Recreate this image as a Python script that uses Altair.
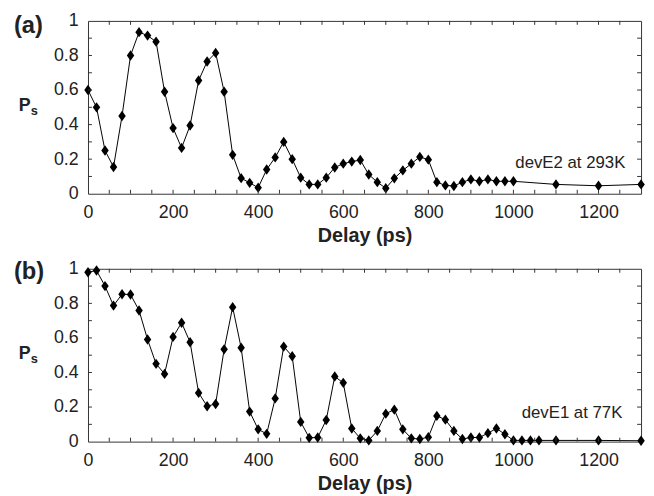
import altair as alt
import pandas as pd

# ---------------- data ----------------
t_a = list(range(0, 1001, 20)) + [1100, 1200, 1300]
ps_a = [0.60, 0.50, 0.25, 0.155, 0.45, 0.80, 0.935, 0.915, 0.88, 0.59,
        0.38, 0.265, 0.395, 0.655, 0.765, 0.815, 0.59, 0.225, 0.09, 0.063,
        0.035, 0.14, 0.21, 0.30, 0.20, 0.093, 0.054, 0.054, 0.093, 0.152,
        0.174, 0.186, 0.195, 0.111, 0.067, 0.032, 0.089, 0.135, 0.174, 0.213,
        0.197, 0.067, 0.048, 0.045, 0.067, 0.083, 0.072, 0.083, 0.072, 0.072,
        0.072, 0.054, 0.046, 0.054]

t_b = list(range(0, 1061, 20)) + [1100, 1200, 1300]
ps_b = [0.98, 0.99, 0.90, 0.787, 0.853, 0.851, 0.759, 0.591, 0.45, 0.392,
        0.606, 0.688, 0.575, 0.282, 0.205, 0.218, 0.534, 0.778, 0.543, 0.174,
        0.071, 0.045, 0.25, 0.55, 0.494, 0.114, 0.022, 0.024, 0.125, 0.377,
        0.34, 0.076, 0.019, 0.007, 0.062, 0.162, 0.185, 0.071, 0.019, 0.015,
        0.026, 0.149, 0.127, 0.062, 0.015, 0.024, 0.024, 0.049, 0.076, 0.043,
        0.007, 0.007, 0.007, 0.007, 0.007, 0.007, 0.005]

x_labels = [0, 200, 400, 600, 800, 1000, 1200]
y_labels = [0, 0.2, 0.4, 0.6, 0.8, 1]
x_minor = list(range(50, 1300, 50))
y_minor = [0.1, 0.2, 0.3, 0.4, 0.5, 0.6, 0.7, 0.8, 0.9]

# ---------------- style ----------------
W, H = 560, 175
FONT = "Liberation Sans"
TXT = "#222222"
DIAMOND = "M0,-1L0.72,0L0,1L-0.72,0Z"
TICK = 4

XAXIS = alt.Axis(values=x_labels, title="Delay (ps)", grid=False,
                 ticks=False, domain=False, format="d",
                 labelOverlap=False, labelFont=FONT,
                 labelFontSize=18, labelColor=TXT, labelPadding=10,
                 titleFont=FONT, titleFontSize=20, titleFontWeight="bold",
                 titleColor=TXT, titlePadding=4, labelFlush=False)
YAXIS = alt.Axis(values=y_labels, title=None, grid=False, ticks=False,
                 domain=False, format="~g", labelOverlap=False,
                 labelFont=FONT, labelFontSize=18, labelColor=TXT,
                 labelPadding=10, labelFlush=False)
XSC = alt.Scale(domain=[0, 1300], nice=False, zero=False)
YSC = alt.Scale(domain=[0, 1], nice=False)


def X():
    return alt.X("t:Q", scale=XSC, axis=XAXIS)


def Y():
    return alt.Y("p:Q", scale=YSC, axis=YAXIS)


def panel(t, p, tag, note, note_t, note_p, tag_y):
    df = pd.DataFrame({"t": t, "p": p})
    base = alt.Chart(df)
    line = base.mark_line(color="black", strokeWidth=1).encode(x=X(), y=Y())
    pts = base.mark_point(shape=DIAMOND, filled=True, color="black", size=110,
                          opacity=1).encode(x=X(), y=Y())

    xt = pd.DataFrame({"t": x_minor})
    yt = pd.DataFrame({"p": y_minor})
    tc = "#333333"
    xb = alt.Chart(xt).mark_rule(color=tc, strokeWidth=1).encode(
        x=X(), y=alt.value(H), y2=alt.value(H - TICK))
    xtop = alt.Chart(xt).mark_rule(color=tc, strokeWidth=1).encode(
        x=X(), y=alt.value(0), y2=alt.value(TICK))
    yl = alt.Chart(yt).mark_rule(color=tc, strokeWidth=1).encode(
        y=Y(), x=alt.value(0), x2=alt.value(TICK))
    yr = alt.Chart(yt).mark_rule(color=tc, strokeWidth=1).encode(
        y=Y(), x=alt.value(W), x2=alt.value(W - TICK))

    nd = pd.DataFrame({"t": [note_t], "p": [note_p], "s": [note]})
    note_m = alt.Chart(nd).mark_text(align="right", baseline="alphabetic",
                                     fontSize=17, font=FONT, color=TXT).encode(
        x=X(), y=Y(), text="s:N")

    tag_m = alt.Chart(nd).mark_text(align="left", baseline="alphabetic",
                                    fontSize=24, fontWeight="bold", font=FONT,
                                    color=TXT).encode(
        x=alt.value(-75), y=alt.value(tag_y), text=alt.value(tag))
    p_m = alt.Chart(nd).mark_text(align="left", baseline="alphabetic",
                                  fontSize=18, fontWeight="bold", font=FONT,
                                  color=TXT).encode(
        x=alt.value(-70), y=alt.value(91), text=alt.value("P"))
    s_m = alt.Chart(nd).mark_text(align="left", baseline="alphabetic",
                                  fontSize=13, fontWeight="bold", font=FONT,
                                  color=TXT).encode(
        x=alt.value(-58), y=alt.value(95), text=alt.value("s"))

    return alt.layer(line, pts, xb, xtop, yl, yr, note_m, tag_m, p_m, s_m).properties(
        width=W, height=H)


pa = panel(t_a, ps_a, "(a)", "devE2 at 293K", 1263, 0.151, 12)
pb = panel(t_b, ps_b, "(b)", "devE1 at 77K", 1256, 0.135, 10)

chart = alt.vconcat(pa, pb, spacing=13).properties(
    padding={"left": 5, "top": 0, "right": 0, "bottom": 0}
).configure_view(stroke="#333333", strokeWidth=1).configure_axis(labelOverlap=False)

chart.save("out.html", embed_options={"renderer": "svg", "actions": False})
